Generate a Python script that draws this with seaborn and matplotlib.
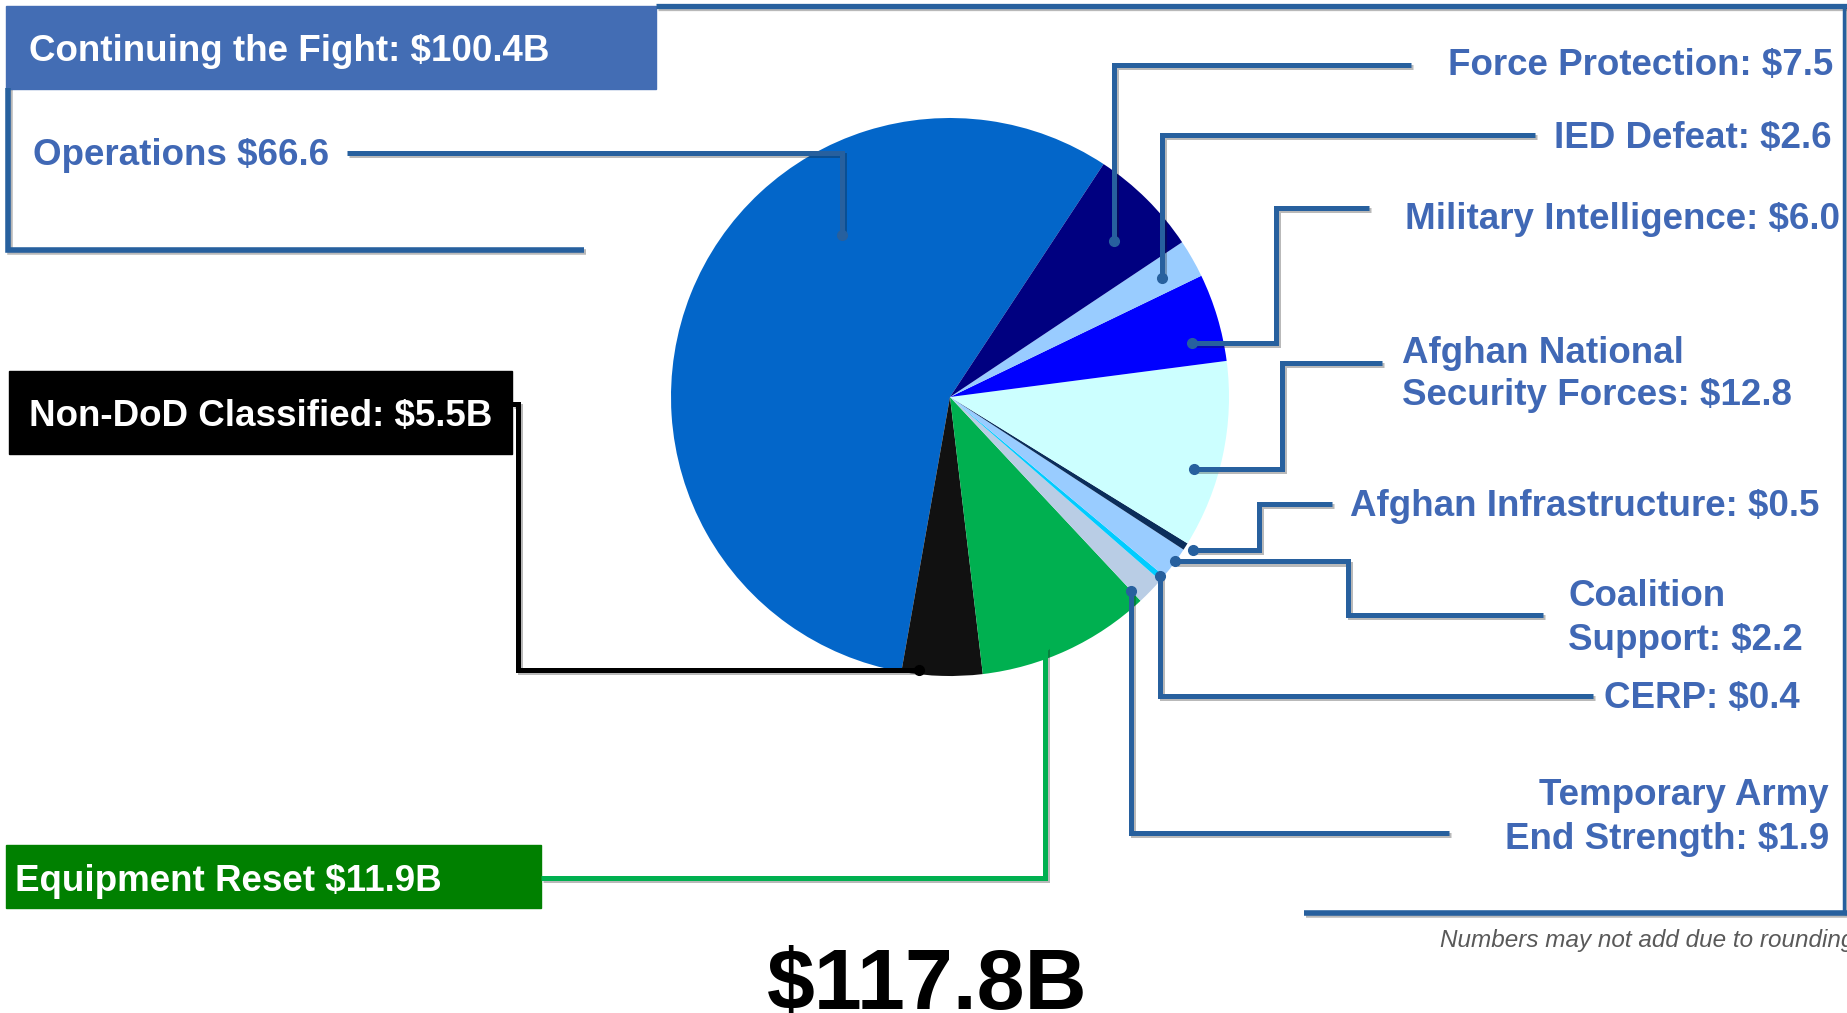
import matplotlib
matplotlib.use('Agg')
import matplotlib.pyplot as plt
import matplotlib.patheffects as pe
from matplotlib.patches import Rectangle
import numpy as np
import seaborn as sns

# FY budget request, $B (counter-clockwise from Operations)
slices = ['Operations', 'Non-DoD Classified', 'Equipment Reset', 'Temporary Army End Strength',
          'CERP', 'Coalition Support', 'Afghan Infrastructure', 'Afghan National Security Forces',
          'Military Intelligence', 'IED Defeat', 'Force Protection']
values = [66.6, 5.5, 11.9, 1.9, 0.4, 2.2, 0.5, 12.8, 6.0, 2.6, 7.5]
colors = ['#0366C9', '#111111', '#00B050', '#B9CDE5', '#00CCFF', '#99CCFF',
          '#0B2D5A', '#CCFFFF', '#0000FF', '#99CCFF', '#000080']
label_texts = ['Operations $66.6', 'Non-DoD Classified: $5.5B', 'Equipment Reset $11.9B',
               'Temporary Army\nEnd Strength: $1.9', 'CERP: $0.4', 'Coalition\nSupport: $2.2',
               'Afghan Infrastructure: $0.5', 'Afghan National\nSecurity Forces: $12.8',
               'Military Intelligence: $6.0', 'IED Defeat: $2.6', 'Force Protection: $7.5']
fight_text = 'Continuing the Fight: $100.4B'
total_text = '$117.8B'
note_text = 'Numbers may not add due to rounding'

W, H = 1847, 1013
CX, CY, R = 950, 397, 279
LINE = '#27609E'
TXT = '#4068B5'

# leader routes in pixels (y down): dot inside wedge (angle frac, radius frac),
# first move ('v' or 'h') and the waypoints after it
routes = {
    'Operations': (0.33, 0.70, 'v', 153, [(347, 153)]),
    'Non-DoD Classified': (0.21, 0.985, 'h', 518, [(518, 404), (512, 404)]),
    'Equipment Reset': (0.39, 0.95, 'v', 878, [(541, 878)]),
    'Temporary Army End Strength': (0.0, 0.95, 'v', 833, [(1449, 833)]),
    'CERP': (0.6, 0.99, 'v', 696, [(1593, 696)]),
    'Coalition Support': (0.56, 1.0, 'h', 1348, [(1348, 615), (1543, 615)]),
    'Afghan Infrastructure': (0.7, 1.03, 'h', 1259, [(1259, 504), (1332, 504)]),
    'Afghan National Security Forces': (0.39, 0.91, 'h', 1282, [(1282, 363), (1382, 363)]),
    'Military Intelligence': (0.28, 0.89, 'h', 1276, [(1276, 208), (1369, 208)]),
    'IED Defeat': (0.45, 0.87, 'v', 135, [(1535, 135)]),
    'Force Protection': (0.43, 0.81, 'v', 65, [(1411, 65)]),
}
line_colors = {'Non-DoD Classified': '#000000', 'Equipment Reset': '#00B050'}

# label placement: x, alignment, baseline of each line (pixels, y down)
label_pos = {
    'Operations': (33, 'left', [165]),
    'Force Protection': (1833, 'right', [75]),
    'IED Defeat': (1832, 'right', [148]),
    'Military Intelligence': (1840, 'right', [229]),
    'Afghan National Security Forces': (1402, 'left', [363, 405]),
    'Afghan Infrastructure': (1350, 'left', [516]),
    'Coalition Support': (1568, 'left', [606, 650]),
    'CERP': (1604, 'left', [708]),
    'Temporary Army End Strength': (1829, 'right', [805, 849]),
}

sns.set_theme(style='white')
plt.rcParams['font.family'] = ['Liberation Sans', 'DejaVu Sans']

fig = plt.figure(figsize=(W / 100, H / 100), dpi=100)
ax = fig.add_axes([0, 0, 1, 1])


def Y(y):
    return H - y


wedges, _ = ax.pie(values, colors=colors, startangle=56.6, counterclock=True,
                   radius=R, center=(CX, Y(CY)), wedgeprops=dict(linewidth=0), frame=True)
ax.set_xlim(0, W)
ax.set_ylim(0, H)
ax.set_aspect('auto')
ax.axis('off')

shadow = [pe.SimpleLineShadow(offset=(1.5, -1.5), alpha=0.3), pe.Normal()]


def seg(pts, c, lw=3.6):
    ax.plot([p[0] for p in pts], [Y(p[1]) for p in pts], color=c, lw=lw,
            solid_joinstyle='miter', solid_capstyle='butt', path_effects=shadow, zorder=5)


for w, name in zip(wedges, slices):
    frac, rf, mode, first, rest = routes[name]
    ang = np.deg2rad(w.theta1 + frac * (w.theta2 - w.theta1))
    dx = w.center[0] + rf * w.r * np.cos(ang)
    dy = H - (w.center[1] + rf * w.r * np.sin(ang))
    if mode == 'v':
        pts = [(dx, dy), (dx, first)] + rest
    else:
        pts = [(dx, dy), (first, dy)] + rest
    c = line_colors.get(name, LINE)
    seg(pts, c)
    ax.plot(dx, Y(dy), 'o', color=c, ms=7, zorder=6)

# frame lines
seg([(656, 6), (1847, 6)], LINE, 3.8)
seg([(1844, 6), (1844, 913)], LINE, 2.5)
seg([(1304, 913), (1847, 913)], LINE, 4)
seg([(8, 88), (8, 250), (584, 250)], LINE, 4)

# header / boxes
ax.add_patch(Rectangle((6, Y(89)), 650, 83, color='#436DB4', zorder=4))
ax.add_patch(Rectangle((9, Y(454)), 503, 83, color='#000000', zorder=4))
ax.add_patch(Rectangle((6, Y(908)), 535, 63, color='#008000', zorder=4))

fs = 26.5
white = dict(color='white', fontsize=fs, fontweight='bold', va='baseline', zorder=7)
ax.text(29, Y(61), fight_text, **white)
ax.text(29, Y(426), label_texts[1], **white)
ax.text(15, Y(891), label_texts[2], **white)

kw = dict(color=TXT, fontsize=fs, fontweight='bold', va='baseline', zorder=7)
for name, txt in zip(slices, label_texts):
    if name not in label_pos:
        continue
    x, ha, baselines = label_pos[name]
    for line, yb in zip(txt.split('\n'), baselines):
        ax.text(x, Y(yb), line, ha=ha, **kw)

ax.text(927, Y(1009), total_text, color='black', fontsize=62, fontweight='bold',
        ha='center', va='baseline', zorder=7)
ax.text(1440, Y(947), note_text, color='#595959', fontsize=17.5, style='italic',
        ha='left', va='baseline', zorder=7)

fig.savefig('out.png', dpi=100)
